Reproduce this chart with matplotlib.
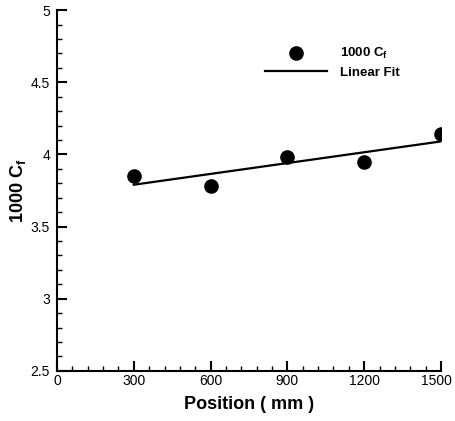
import matplotlib
matplotlib.use("Agg")
import matplotlib.pyplot as plt
import matplotlib.transforms as mtransforms
import numpy as np
from matplotlib.ticker import MultipleLocator

plt.rcParams['font.family'] = ['Liberation Sans', 'DejaVu Sans']
plt.rcParams['mathtext.fontset'] = 'custom'
plt.rcParams['mathtext.rm'] = 'Liberation Sans'
plt.rcParams['mathtext.it'] = 'Liberation Sans'
plt.rcParams['mathtext.bf'] = 'Liberation Sans:bold'

position = [300, 600, 900, 1200, 1500]
cf1000 = [3.85, 3.78, 3.98, 3.95, 4.14]
xticks = [0, 300, 600, 900, 1200, 1500]
yticks = [2.5, 3, 3.5, 4, 4.5, 5]

fig = plt.figure(figsize=(4.56, 4.21), dpi=100)
ax = fig.add_axes([0.125, 0.119, 0.842, 0.857])

coef = np.polyfit(position, cf1000, 1)
xfit = np.array([position[0], position[-1]])
ax.plot(position, cf1000, 'o', color='black', markersize=9.5, label=r'$\mathbf{1000\ C_f}$', zorder=3)
ax.plot(xfit, np.polyval(coef, xfit), '-', color='black', linewidth=1.6, label='Linear Fit')

ax.set_xlim(0, 1500)
ax.set_ylim(2.5, 5)
ax.set_xticks(xticks)
ax.set_xticklabels([str(t) for t in xticks])
ax.set_yticks(yticks)
ax.set_yticklabels(['2.5', '3', '3.5', '4', '4.5', '5'])
ax.xaxis.set_minor_locator(MultipleLocator(60))
ax.yaxis.set_minor_locator(MultipleLocator(0.1))
ax.tick_params(which='major', direction='in', length=7, width=1.5, labelsize=10)
ax.tick_params(axis='x', which='major', pad=2)
ax.tick_params(axis='y', which='major', pad=5)
ax.tick_params(which='minor', direction='in', length=3.5, width=1)
for s in ['top', 'right']:
    ax.spines[s].set_visible(False)
for s in ['left', 'bottom']:
    ax.spines[s].set_linewidth(1.5)

# nudge the last x tick label left so it stays inside the figure
last = ax.get_xticklabels()[-1]
last.set_transform(last.get_transform() + mtransforms.ScaledTranslation(-5/100, 0, fig.dpi_scale_trans))

ax.set_xlabel('Position ( mm )', fontsize=13, fontweight='bold', labelpad=6)
ax.set_ylabel(r'$\mathbf{1000\ C_f}$', fontsize=13, labelpad=2)

ax.legend(loc='upper left', bbox_to_anchor=(0.542, 0.90), frameon=False,
          prop={'weight': 'bold', 'size': 9.5}, handlelength=4.7, handletextpad=1.0,
          labelspacing=0.4, borderpad=0, borderaxespad=0)

fig.savefig('out.png', dpi=100)
